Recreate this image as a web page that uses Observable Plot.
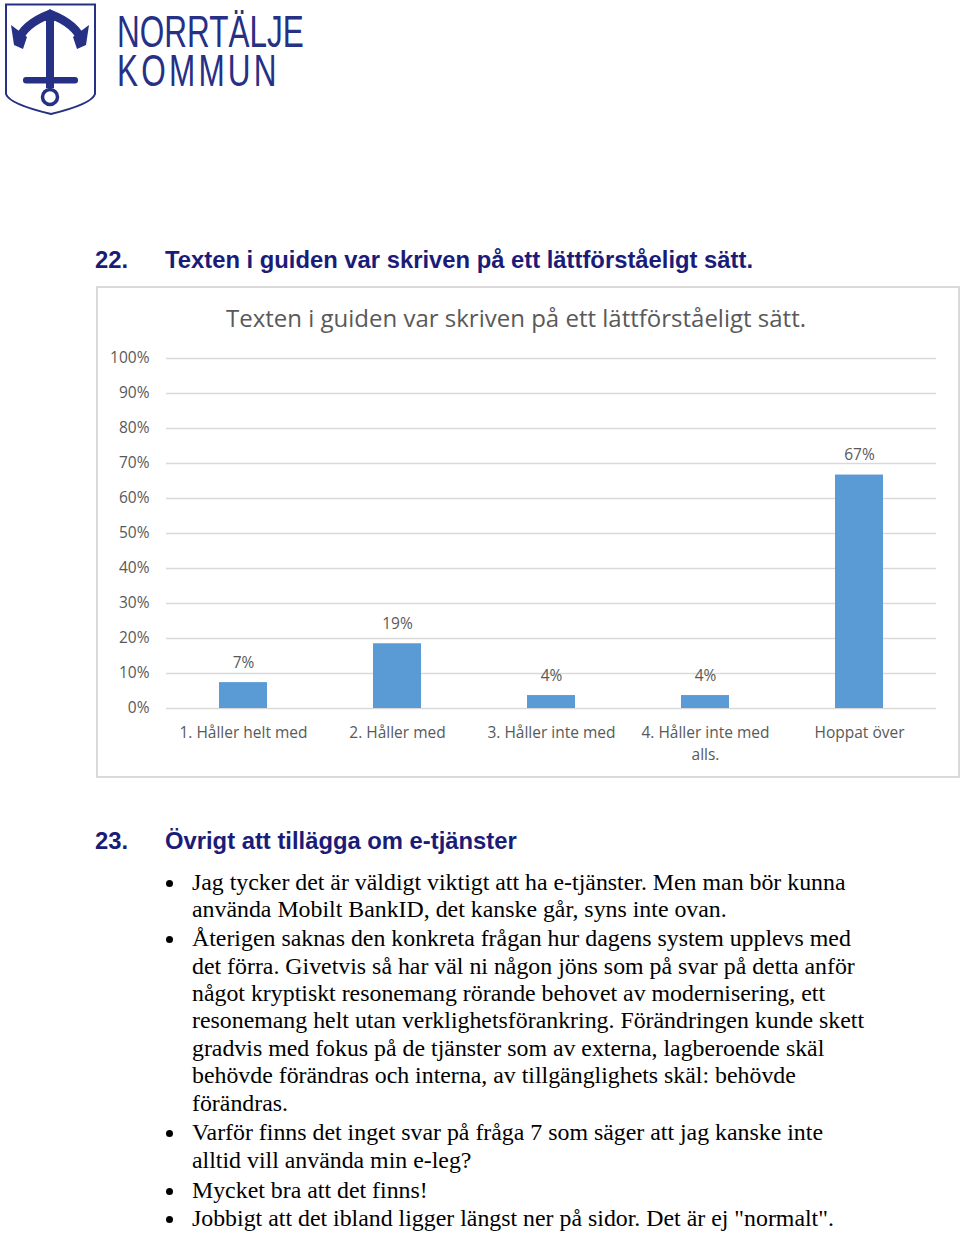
<!DOCTYPE html>
<html>
<head>
<meta charset="utf-8">
<script src="https://cdn.jsdelivr.net/npm/d3@7"></script>
<script src="https://cdn.jsdelivr.net/npm/@observablehq/plot@0.6"></script>
<style>
  html, body { margin: 0; padding: 0; background: #fff; }
  body { width: 960px; height: 1234px; position: relative; overflow: hidden; }
  .abs { position: absolute; }
  .h { font-family: "Liberation Sans", Arial, sans-serif; font-weight: bold; font-size: 23.8px; line-height: 28px; color: #1b1b78; white-space: nowrap; }
  #box { left: 96px; top: 286px; width: 860px; height: 488px; border: 2px solid #dadada; }
  #ctitle { position: absolute; left: 128px; top: 13px; font-family: "Open Sans", sans-serif; font-size: 24px; line-height: 33px; color: #595959; white-space: nowrap; }
  #plot { position: absolute; left: 0; top: 52px; }
  .body { font-family: "Liberation Serif", "Times New Roman", serif; font-size: 23.85px; line-height: 27px; color: #000; }
  .line { position: absolute; white-space: nowrap; }
  .bul { position: absolute; width: 7px; height: 7px; border-radius: 50%; background: #000; }
  #logotext { position: absolute; left: 117px; top: 12px; font-family: "Liberation Sans", sans-serif; font-size: 45px; line-height: 39px; color: #263084; white-space: nowrap; transform: scaleX(0.70); transform-origin: 0 0; }
  #logotext .k { letter-spacing: 4.6px; }
</style>
</head>
<body>
<script>
// ---- data ----
const categories = ["1. Håller helt med", "2. Håller med", "3. Håller inte med", "4. Håller inte med\nalls.", "Hoppat över"];
const shares = [0.074, 0.185, 0.037, 0.037, 0.667];
const yTicks = [0, 0.1, 0.2, 0.3, 0.4, 0.5, 0.6, 0.7, 0.8, 0.9, 1.0];
const chartTitle = "Texten i guiden var skriven på ett lättförståeligt sätt.";
const q22 = "Texten i guiden var skriven på ett lättförståeligt sätt.";
const q23 = "Övrigt att tillägga om e-tjänster";
const comments = [
  ["Jag tycker det är väldigt viktigt att ha e-tjänster. Men man bör kunna", "använda Mobilt BankID, det kanske går, syns inte ovan."],
  ["Återigen saknas den konkreta frågan hur dagens system upplevs med", "det förra. Givetvis så har väl ni någon jöns som på svar på detta anför", "något kryptiskt resonemang rörande behovet av modernisering, ett", "resonemang helt utan verklighetsförankring. Förändringen kunde skett", "gradvis med fokus på de tjänster som av externa, lagberoende skäl", "behövde förändras och interna, av tillgänglighets skäl: behövde", "förändras."],
  ["Varför finns det inget svar på fråga 7 som säger att jag kanske inte", "alltid vill använda min e-leg?"],
  ["Mycket bra att det finns!"],
  ["Jobbigt att det ibland ligger längst ner på sidor. Det är ej \"normalt\"."]
];

const navy = "#263084";
const data = categories.map((c, i) => ({category: c, value: shares[i]}));

// ---- logo ----
const logo = `
<svg class="abs" style="left:0;top:0" width="110" height="125" viewBox="0 0 110 125">
  <path d="M6,4.5 H95 V94 Q92,104 51,114 Q9,104 6,94 Z" fill="#fff" stroke="${navy}" stroke-width="2"/>
  <path d="M18,41 Q24,24 50,14 Q76,24 82,41" fill="none" stroke="${navy}" stroke-width="8.5"/>
  <path d="M50,9 L60,17 L50,24 L40,17 Z" fill="${navy}"/>
  <path d="M11,25 L27,37 L23,49 L14,45 Z" fill="${navy}"/>
  <path d="M89,25 L73,37 L77,49 L86,45 Z" fill="${navy}"/>
  <path d="M46,16 H54 V88 H46 Z" fill="${navy}"/>
  <rect x="23" y="77" width="55" height="6.5" rx="3" fill="${navy}"/>
  <circle cx="50" cy="97" r="7.5" fill="none" stroke="${navy}" stroke-width="3.5"/>
</svg>
<div id="logotext">NORRTÄLJE<br><span class="k">KOMMUN</span></div>`;
document.body.insertAdjacentHTML("beforeend", logo);

// ---- headings ----
function heading(num, text, top) {
  document.body.insertAdjacentHTML("beforeend",
    `<div class="abs h" style="left:95px;top:${top}px">${num}</div><div class="abs h" style="left:165px;top:${top}px">${text}</div>`);
}
heading("22.", q22, 246);
heading("23.", q23, 827);

// ---- chart box ----
const box = document.createElement("div");
box.id = "box"; box.className = "abs";
box.innerHTML = `<div id="ctitle">${chartTitle}</div><div id="plot"></div>`;
document.body.appendChild(box);

const chart = Plot.plot({
  width: 860,
  height: 428,
  marginLeft: 68,
  marginRight: 22,
  marginTop: 18,
  marginBottom: 60,
  style: {fontFamily: "Open Sans, sans-serif", fontSize: "15.5px", color: "#595959", background: "transparent"},
  x: {domain: categories, paddingInner: 0.69, paddingOuter: 0.345, label: null},
  y: {domain: [0, 1], label: null},
  marks: [
    Plot.gridY(yTicks, {stroke: "#d9d9d9", strokeOpacity: 1, strokeWidth: 1.5}),
    Plot.axisY(yTicks, {tickFormat: d3.format(".0%"), tickSize: 0, tickPadding: 17, fill: "#595959", label: null}),
    Plot.axisX({tickSize: 0, tickPadding: 14, fill: "#595959", label: null, lineHeight: 1.4}),
    Plot.barY(data, {x: "category", y: "value", fill: "#5b9bd5"}),
    Plot.text(data, {x: "category", y: "value", text: d => d3.format(".0%")(d.value), dy: -20, fill: "#595959", fontSize: 15.5})
  ]
});
document.getElementById("plot").appendChild(chart);

// ---- comments ----
let y = 869;
const lh = 27.35;
const gaps = [0, 1.7, 2.5, 2.7, 0.8];
comments.forEach((lines, i) => {
  y += gaps[i];
  document.body.insertAdjacentHTML("beforeend", `<div class="bul" style="left:166px;top:${y + 11}px"></div>`);
  lines.forEach(l => {
    const d = document.createElement("div");
    d.className = "line body";
    d.style.left = "192px";
    d.style.top = y + "px";
    d.textContent = l;
    document.body.appendChild(d);
    y += lh;
  });
});
</script>
</body>
</html>
